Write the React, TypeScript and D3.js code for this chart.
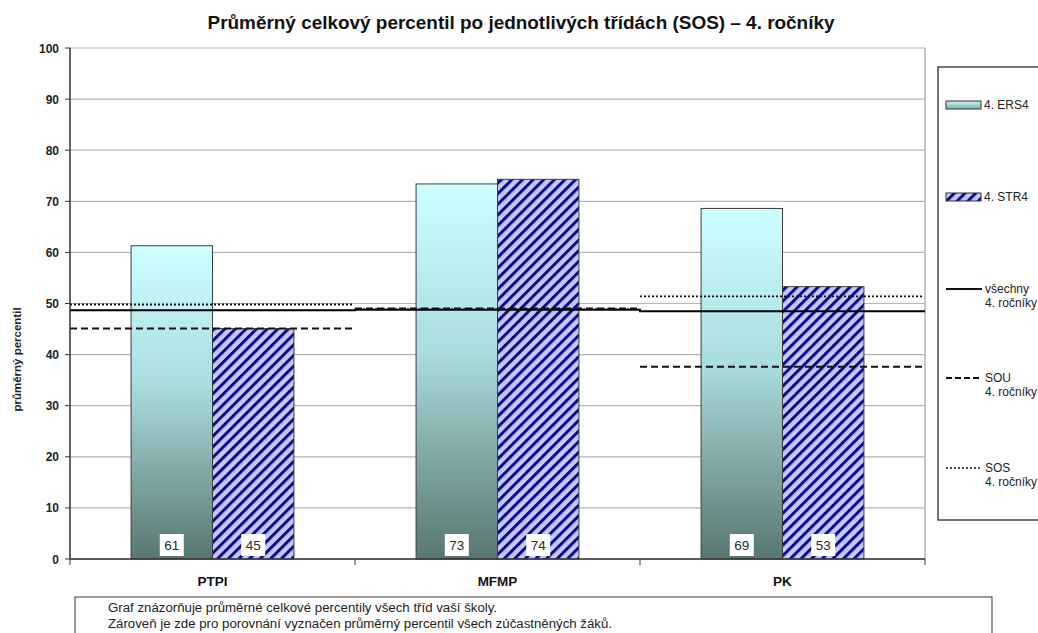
import React from "react";
import * as d3 from "d3";

// Classes and series
const categories = ["PTPI", "MFMP", "PK"];
const ers4 = [61.3, 73.4, 68.6];
const str4 = [45.1, 74.3, 53.3];
// Reference averages per class (step lines)
const allGrade4 = [48.7, 48.8, 48.5];
const souGrade4 = [45.1, 49.0, 37.6];
const sosGrade4 = [49.8, 48.9, 51.4];
const yTicks = [0, 10, 20, 30, 40, 50, 60, 70, 80, 90, 100];

const W = 1038;
const H = 633;
const FONT = "'Liberation Sans', Arial, sans-serif";

export default function App() {
  const left = 70;
  const right = 925;
  const top = 48;
  const bottom = 559;

  const x = d3.scaleBand<string>().domain(categories).range([left, right]).padding(0);
  const inner = d3
    .scaleBand<string>()
    .domain(["ers4", "str4"])
    .range([0, x.bandwidth()])
    .paddingInner(0)
    .paddingOuter(0.75);
  const y = d3.scaleLinear().domain([0, 100]).range([bottom, top]);

  const barW = inner.bandwidth();

  const segs = (vals: number[]) =>
    categories.map((c, i) => ({ x1: x(c)!, x2: x(c)! + x.bandwidth(), y: y(vals[i]) }));

  const solidPath = (() => {
    const s = segs(allGrade4);
    let d = "";
    s.forEach((p, i) => {
      d += (i === 0 ? `M${p.x1},${p.y}` : `L${p.x1},${p.y}`) + `L${p.x2},${p.y}`;
    });
    return d;
  })();

  const legendItems = [
    { y: 105, kind: "ers", lines: ["4. ERS4"] },
    { y: 197, kind: "str", lines: ["4. STR4"] },
    { y: 289, kind: "solid", lines: ["všechny", "4. ročníky"] },
    { y: 378, kind: "dash", lines: ["SOU", "4. ročníky"] },
    { y: 468, kind: "dot", lines: ["SOS", "4. ročníky"] },
  ];

  return (
    <svg width={W} height={H} style={{ position: "absolute", left: 0, top: 0, background: "#fff" }} fontFamily={FONT}>
      <defs>
        <linearGradient id="ersGrad" x1="0" y1="0" x2="0" y2="1">
          <stop offset="0%" stopColor="#ccffff" />
          <stop offset="45%" stopColor="#a9dcdc" />
          <stop offset="100%" stopColor="#597670" />
        </linearGradient>
        <linearGradient id="ersLegendGrad" x1="0" y1="0" x2="0" y2="1">
          <stop offset="0%" stopColor="#c8f4f0" />
          <stop offset="100%" stopColor="#7fb0aa" />
        </linearGradient>
        <pattern id="strHatch" patternUnits="userSpaceOnUse" width="7.5" height="7.5" patternTransform="rotate(45)">
          <rect width="7.5" height="7.5" fill="#c4c8ff" />
          <rect x="0" y="0" width="3" height="7.5" fill="#0a0a8a" />
        </pattern>
      </defs>

      {/* title */}
      <text x={521} y={29} textAnchor="middle" fontSize={18} fontWeight="bold" fill="#111" textLength={627} lengthAdjust="spacingAndGlyphs">
        Průměrný celkový percentil po jednotlivých třídách (SOS) – 4. ročníky
      </text>

      {/* gridlines */}
      {yTicks.map((t) => (
        <g key={t}>
          <line x1={left} x2={right} y1={y(t)} y2={y(t)} stroke="#b4b4b4" strokeWidth={1.2} />
          <line x1={left - 5} x2={left} y1={y(t)} y2={y(t)} stroke="#333" strokeWidth={1} />
          <text x={left - 11} y={y(t) + 4.5} textAnchor="end" fontSize={12} fontWeight="bold" fill="#222">
            {t}
          </text>
        </g>
      ))}
      {/* plot frame right edge */}
      <line x1={right} x2={right} y1={top} y2={bottom} stroke="#a0a0a0" strokeWidth={1.2} />

      {/* bars */}
      {categories.map((c, i) => {
        const bx = x(c)!;
        const e = { x: bx + inner("ers4")!, y: y(ers4[i]), h: bottom - y(ers4[i]) };
        const s = { x: bx + inner("str4")!, y: y(str4[i]), h: bottom - y(str4[i]) };
        return (
          <g key={c}>
            <rect x={e.x} y={e.y} width={barW} height={e.h} fill="url(#ersGrad)" stroke="#3c3c3c" strokeWidth={1} />
            <rect x={s.x} y={s.y} width={barW} height={s.h} fill="url(#strHatch)" stroke="#3c3c3c" strokeWidth={1} />
          </g>
        );
      })}

      {/* reference lines */}
      <path d={solidPath} fill="none" stroke="#000" strokeWidth={2} />
      {segs(souGrade4).map((p, i) => (
        <line key={"sou" + i} x1={p.x1} x2={p.x2 - 2} y1={p.y} y2={p.y} stroke="#111" strokeWidth={2} strokeDasharray="7,4" />
      ))}
      {segs(sosGrade4).map((p, i) => (
        <line key={"sos" + i} x1={p.x1} x2={p.x2 - 2} y1={p.y} y2={p.y} stroke="#111" strokeWidth={1.8} strokeDasharray="2,2" />
      ))}

      {/* value labels */}
      {categories.map((c, i) => {
        const bx = x(c)!;
        return [
          { key: "e", cx: bx + inner("ers4")! + barW / 2, v: ers4[i] },
          { key: "s", cx: bx + inner("str4")! + barW / 2, v: str4[i] },
        ].map((l) => (
          <g key={c + l.key}>
            <rect x={l.cx - 12} y={bottom - 25} width={24} height={22} fill="#fff" />
            <text x={l.cx} y={bottom - 9} textAnchor="middle" fontSize={13.5} fill="#2a2a2a">
              {Math.round(l.v)}
            </text>
          </g>
        ));
      })}

      {/* axes */}
      <line x1={left} x2={left} y1={top} y2={bottom} stroke="#333" strokeWidth={1.5} />
      <line x1={left} x2={right} y1={bottom} y2={bottom} stroke="#333" strokeWidth={1.5} />
      {[...categories.map((c) => x(c)!), right].map((tx, i) => (
        <line key={"ct" + i} x1={tx} x2={tx} y1={bottom} y2={bottom + 6} stroke="#333" strokeWidth={1} />
      ))}
      {categories.map((c) => (
        <text key={"cl" + c} x={x(c)! + x.bandwidth() / 2} y={586} textAnchor="middle" fontSize={13.5} fontWeight="bold" fill="#111">
          {c}
        </text>
      ))}

      {/* y axis title */}
      <text transform={`translate(21,${(top + bottom) / 2 + 56}) rotate(-90)`} textAnchor="middle" fontSize={11.5} fontWeight="bold" fill="#222">
        průměrný percentil
      </text>

      {/* legend */}
      <rect x={938} y={67} width={120} height={453} fill="#fff" stroke="#444" strokeWidth={1.5} />
      {legendItems.map((it) => (
        <g key={it.kind}>
          {it.kind === "ers" && <rect x={946} y={it.y - 4} width={35} height={8} fill="url(#ersLegendGrad)" stroke="#333" strokeWidth={1} />}
          {it.kind === "str" && <rect x={946} y={it.y - 4} width={35} height={8} fill="url(#strHatch)" stroke="#333" strokeWidth={1} />}
          {it.kind === "solid" && <line x1={946} x2={982} y1={it.y} y2={it.y} stroke="#111" strokeWidth={2} />}
          {it.kind === "dash" && <line x1={946} x2={982} y1={it.y} y2={it.y} stroke="#111" strokeWidth={2} strokeDasharray="6,3" />}
          {it.kind === "dot" && <line x1={946} x2={982} y1={it.y} y2={it.y} stroke="#111" strokeWidth={1.6} strokeDasharray="2,2" />}
          {it.lines.map((ln, j) => (
            <text key={j} x={j === 0 && it.lines.length === 1 ? 984 : 985} y={it.y + 4 + j * 14} fontSize={12} fill="#222">
              {ln}
            </text>
          ))}
        </g>
      ))}

      {/* note box */}
      <rect x={75} y={597} width={917} height={50} fill="#fff" stroke="#333" strokeWidth={1} />
      <text x={108} y={612} fontSize={12} fill="#222" textLength={389} lengthAdjust="spacingAndGlyphs">
        Graf znázorňuje průměrné celkové percentily všech tříd vaší školy.
      </text>
      <text x={108} y={628} fontSize={12} fill="#222" textLength={504} lengthAdjust="spacingAndGlyphs">
        Zároveň je zde pro porovnání vyznačen průměrný percentil všech zúčastněných žáků.
      </text>
    </svg>
  );
}
